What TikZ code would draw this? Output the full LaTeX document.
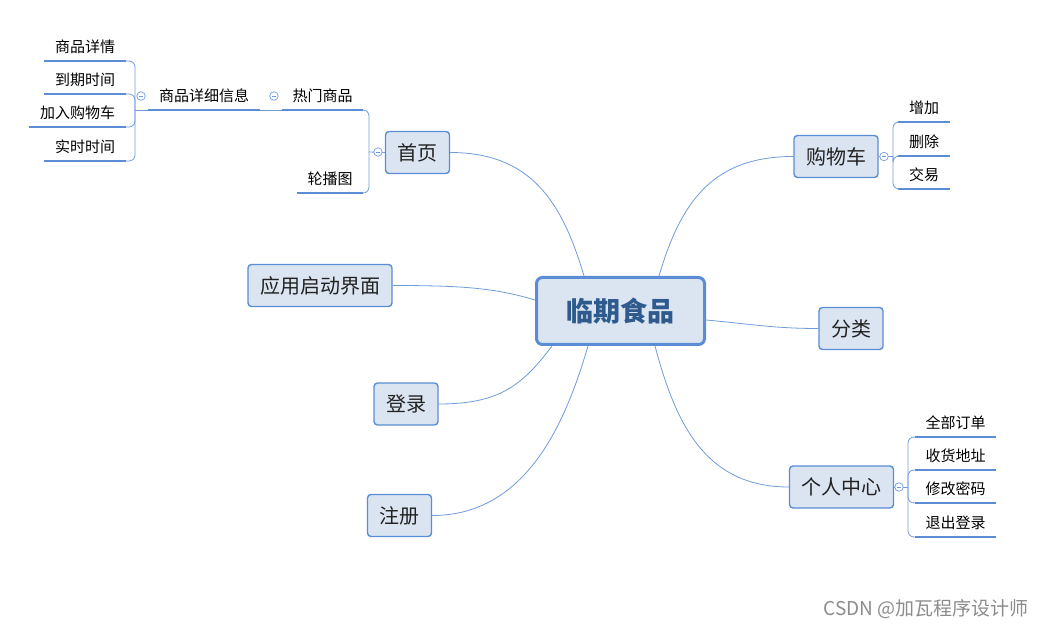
\documentclass[tikz,border=0pt]{standalone}
\usepackage{fontspec}
\newfontfamily\cjk{Noto Sans CJK SC}
\usetikzlibrary{calc}
\definecolor{bfill}{HTML}{DBE5F1}
\definecolor{bline}{HTML}{5B8DD5}
\definecolor{cline}{HTML}{6F9CDB}
\definecolor{ctext}{HTML}{2E5A8E}
\definecolor{tgray}{HTML}{222222}
\newcommand\leafnode[5]{\node[leaf, minimum width={#3-#2}] (#1) at ({(#2+#3)/2},#4) {#5};
  \draw[uline] (#1.south west) -- (#1.south east);}
\begin{document}
\begin{tikzpicture}[x=1pt,y=-1pt,
 box/.style={draw=bline, fill=bfill, line width=1.4pt, rounded corners=3.5pt, font=\cjk\fontsize{20}{24}\selectfont, text=tgray, inner sep=0pt},
 root/.style={draw=bline, fill=bfill, line width=3pt, rounded corners=6pt, font=\cjk\bfseries\fontsize{27}{31}\selectfont, text=ctext, minimum width=168pt, minimum height=67pt, inner sep=0pt},
 leaf/.style={font=\cjk\fontsize{15}{17}\selectfont, text=black, inner sep=0pt, minimum height=28pt, anchor=south},
 uline/.style={draw=bline, line width=2.4pt},
 conn/.style={draw=cline, line width=0.8pt},
 fold/.style={circle, draw=cline, fill=white, line width=0.7pt, minimum size=8.5pt, inner sep=0pt,
   path picture={\draw[cline, line width=0.7pt] ($(path picture bounding box.center)+(-2.3,0)$) -- ($(path picture bounding box.center)+(2.3,0)$);}}
]
\fill[white] (0,0) rectangle (1047,628);
\useasboundingbox (0,0) rectangle (1047,628);

% main nodes
\node[root] (c) at (620.5,311) {临期食品};
\node[box, minimum width=64pt, minimum height=42pt] (sy) at (417.5,152.5) {首页};
\node[box, minimum width=84pt, minimum height=42pt] (gwc) at (836,156.5) {购物车};
\node[box, minimum width=144pt, minimum height=42pt] (yy) at (320,285.5) {应用启动界面};
\node[box, minimum width=64pt, minimum height=42pt] (fl) at (851,328.5) {分类};
\node[box, minimum width=64pt, minimum height=42pt] (dl) at (406,404) {登录};
\node[box, minimum width=104pt, minimum height=42pt] (gr) at (841.5,487) {个人中心};
\node[box, minimum width=64pt, minimum height=42pt] (zc) at (399.5,515.5) {注册};

% leaves
\leafnode{xq}{44}{126}{61}{商品详情}
\leafnode{dq}{44}{126}{94}{到期时间}
\leafnode{jr}{29}{126}{127}{加入购物车}
\leafnode{ss}{44}{126}{161}{实时时间}
\leafnode{xx}{148}{260}{110}{商品详细信息}
\leafnode{rm}{282}{363}{110}{热门商品}
\leafnode{lb}{297}{363}{193}{轮播图}
\leafnode{zj}{898}{950}{122}{增加}
\leafnode{sc}{898}{950}{156}{删除}
\leafnode{jy}{898}{950}{189}{交易}
\leafnode{qb}{915}{996}{437}{全部订单}
\leafnode{sh}{915}{996}{470}{收货地址}
\leafnode{xg}{915}{996}{503}{修改密码}
\leafnode{tc}{915}{996}{537}{退出登录}

% junction coordinates
\coordinate (j0) at (135,110);
\coordinate (j1) at (369,152);
\coordinate (j2) at (893,156.5);
\coordinate (j3) at (908,487);

% center connectors
\draw[conn] (sy.east) .. controls +(80,0) and +(-22,-75) .. ($(c.north west)+(49,0)$);
\draw[conn] (gwc.west) .. controls +(-80,0) and +(22,-75) .. ($(c.north west)+(124,0)$);
\draw[conn] (yy.east) .. controls +(70,0) and +(-40,-12) .. ($(c.north west)+(0,24)$);
\draw[conn] (fl.west) .. controls +(-45,0) and +(45,4) .. ($(c.north east)+(0,44)$);
\draw[conn] (dl.east) .. controls +(60,0) and +(-30,40) .. ($(c.south west)+(17,0)$);
\draw[conn] (zc.east) .. controls +(95,0) and +(-22,75) .. ($(c.south west)+(53,0)$);
\draw[conn] (gr.west) .. controls +(-85,0) and +(20,75) .. ($(c.south west)+(120,0)$);

% branch connectors
\draw[conn] (xx.south west) -- (j0);
\draw[conn, rounded corners=6pt] (j0) |- (xq.south east);
\draw[conn, rounded corners=6pt] (j0) |- (dq.south east);
\draw[conn, rounded corners=6pt] (j0) |- (jr.south east);
\draw[conn, rounded corners=6pt] (j0) |- (ss.south east);
\draw[conn] (xx.south east) -- (rm.south west);
\draw[conn] (sy.west) -- (j1);
\draw[conn, rounded corners=6pt] (j1) |- (rm.south east);
\draw[conn, rounded corners=6pt] (j1) |- (lb.south east);
\draw[conn] (gwc.east) -- (j2);
\draw[conn, rounded corners=6pt] (j2) |- (zj.south west);
\draw[conn, rounded corners=6pt] (j2) |- (sc.south west);
\draw[conn, rounded corners=6pt] (j2) |- (jy.south west);
\draw[conn] (gr.east) -- (j3);
\draw[conn, rounded corners=6pt] (j3) |- (qb.south west);
\draw[conn, rounded corners=6pt] (j3) |- (sh.south west);
\draw[conn, rounded corners=6pt] (j3) |- (xg.south west);
\draw[conn, rounded corners=6pt] (j3) |- (tc.south west);

% fold markers
\node[fold] (f0) at (141,96) {};
\node[fold] (f1) at (274,96) {};
\node[fold] (f2) at (378,152) {};
\node[fold] (f3) at (884,156.5) {};
\node[fold] (f4) at (899,487) {};

% watermark
\node[font=\cjk\fontsize{19}{22}\selectfont, text=black!45] (wm) at (926,609) {CSDN @加瓦程序设计师};
\end{tikzpicture}
\end{document}
